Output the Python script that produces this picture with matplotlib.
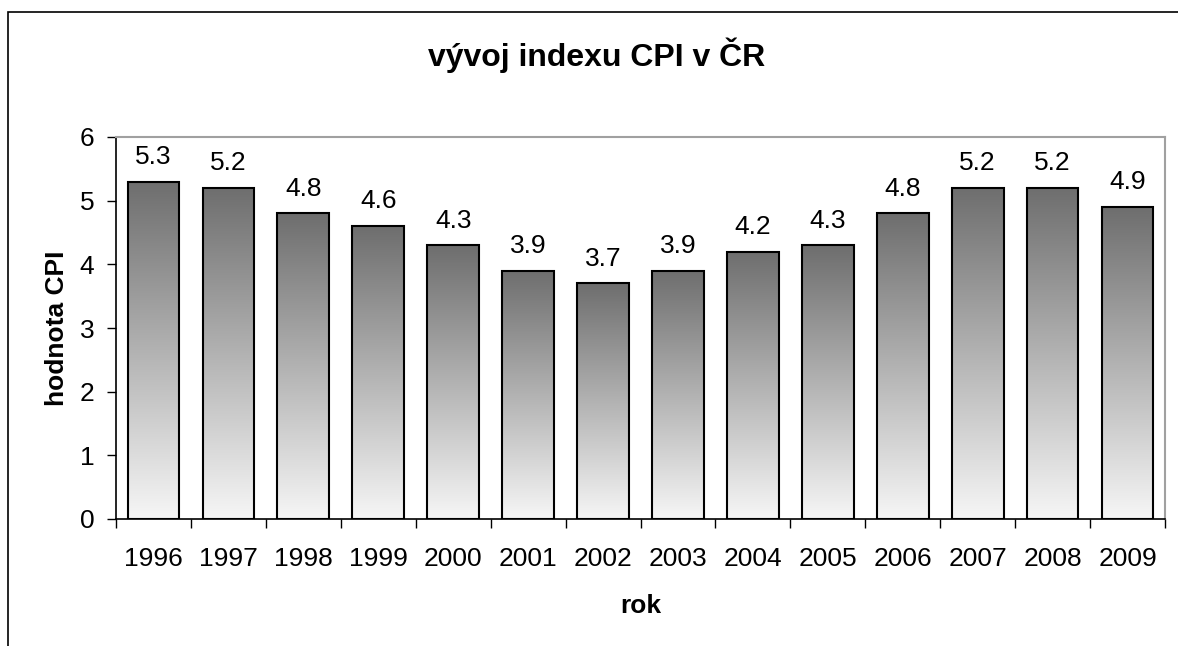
import numpy as np
import matplotlib
matplotlib.use("Agg")
import matplotlib.pyplot as plt
from matplotlib.patches import Rectangle
from matplotlib.colors import LinearSegmentedColormap

years = ["1996", "1997", "1998", "1999", "2000", "2001", "2002",
         "2003", "2004", "2005", "2006", "2007", "2008", "2009"]
cpi = [5.3, 5.2, 4.8, 4.6, 4.3, 3.9, 3.7, 3.9, 4.2, 4.3, 4.8, 5.2, 5.2, 4.9]

plt.rcParams["font.family"] = ["Liberation Sans", "DejaVu Sans"]

W, H = 1178, 646
fig = plt.figure(figsize=(W / 100, H / 100), dpi=100)

# chart area frame (only left and top edges are in the picture)
fig.patches.append(Rectangle((8 / W, -0.1), 1.2, (H - 12) / H + 0.1,
                             transform=fig.transFigure, fill=False,
                             edgecolor="black", linewidth=1.2))

ax = fig.add_axes([116 / W, (H - 519) / H, (1165 - 116) / W, (519 - 137) / H])

x = np.arange(len(years))
bars = ax.bar(x, cpi, width=0.69, color="none", edgecolor="black",
              linewidth=1.5, zorder=3)

# vertical grey gradient inside every bar
cmap = LinearSegmentedColormap.from_list("g", ["#6e6e6e", "#f6f6f6"])
grad = np.linspace(0, 1, 256).reshape(-1, 1)
for b in bars:
    bx, by = b.get_x(), b.get_y()
    bw, bh = b.get_width(), b.get_height()
    im = ax.imshow(grad, cmap=cmap, aspect="auto",
                   extent=[bx, bx + bw, by, by + bh], origin="upper", zorder=2)
    im.set_clip_path(b)

for xi, v in zip(x, cpi):
    ax.text(xi, v + 0.2, f"{v:.1f}", ha="center", va="bottom", fontsize=19)

ax.set_xlim(-0.5, len(years) - 0.5)
ax.set_ylim(0, 6)
ax.set_yticks(range(7))
ax.set_xticks(x)
ax.set_xticklabels(years)
ax.set_xticks(np.arange(-0.5, len(years)), minor=True)
ax.tick_params(axis="x", which="major", length=0, pad=20, labelsize=19)
ax.tick_params(axis="x", which="minor", length=6.5, width=1, direction="out")
ax.tick_params(axis="y", length=6.5, width=1, direction="out", labelsize=19, pad=9)

for s in ["top", "right"]:
    ax.spines[s].set_color("#a0a0a0")
    ax.spines[s].set_linewidth(1.5)
for s in ["left", "bottom"]:
    ax.spines[s].set_linewidth(1.2)

ax.set_xlabel("rok", fontsize=19, fontweight="bold", labelpad=17)
ax.set_ylabel("hodnota CPI", fontsize=19, fontweight="bold", labelpad=8)
fig.text((428 + 765) / 2 / W, 1 - 55 / H, "vývoj indexu CPI v ČR",
         ha="center", va="center", fontsize=23, fontweight="bold")

fig.savefig("out.png", dpi=100)
